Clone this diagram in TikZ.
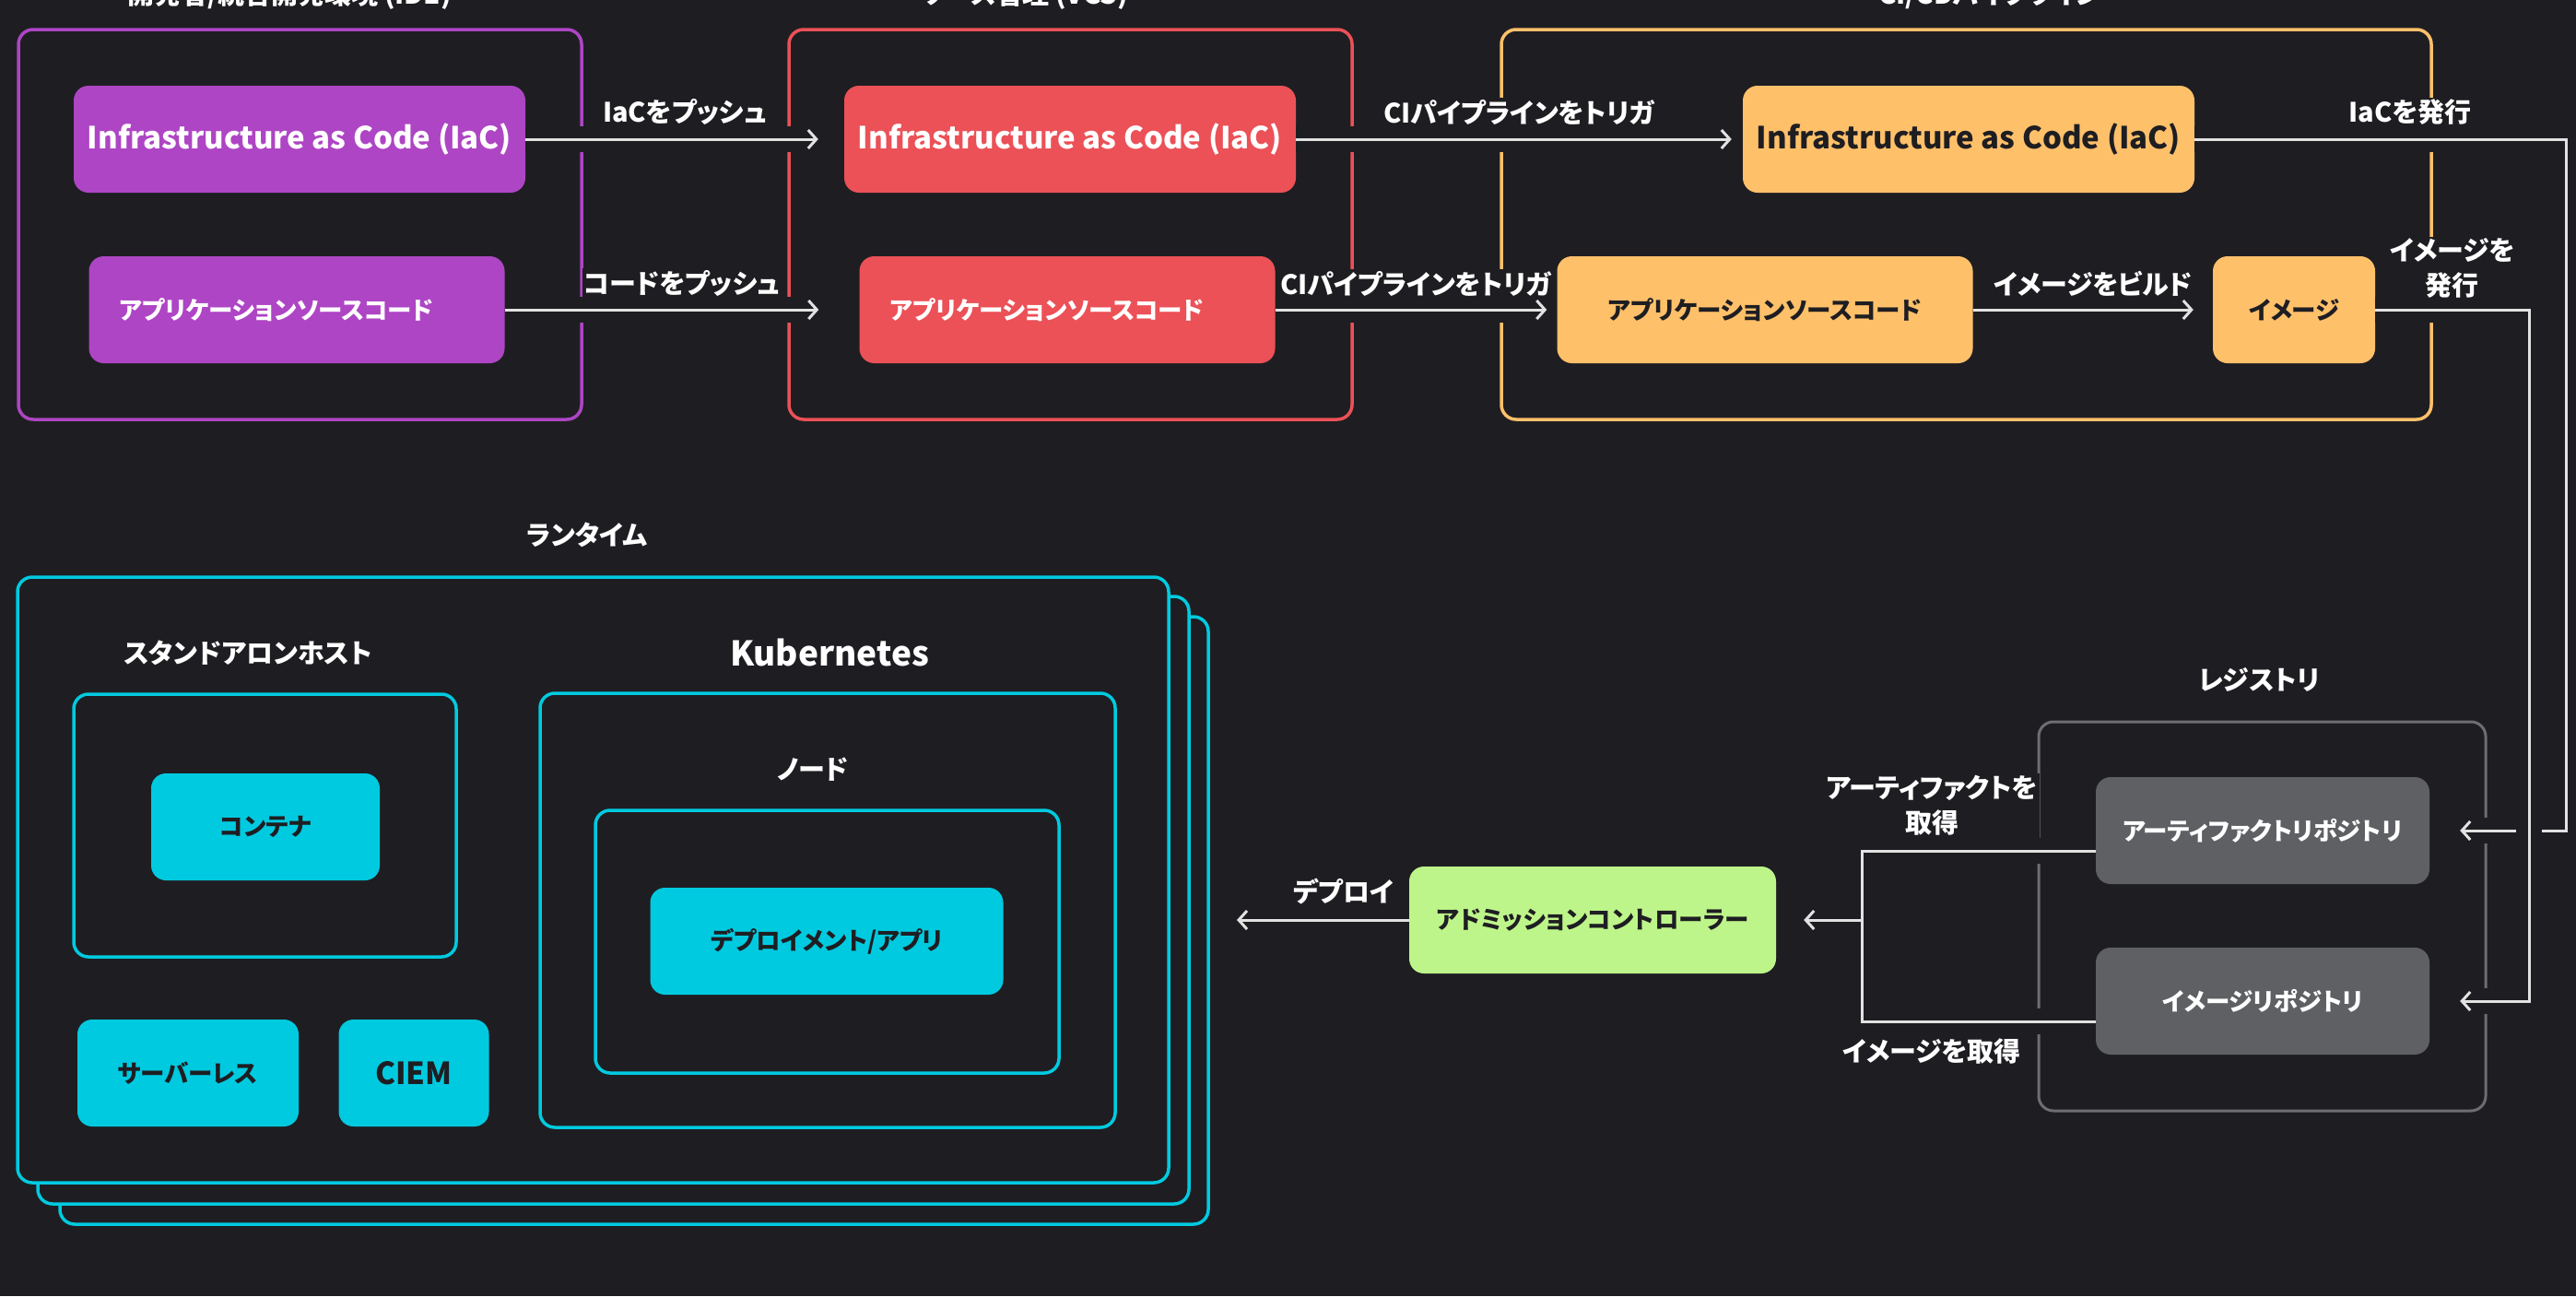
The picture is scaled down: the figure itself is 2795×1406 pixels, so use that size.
\documentclass[tikz,border=0pt]{standalone}
\usepackage{fontspec}
\setmainfont{Noto Sans CJK JP}[RawFeature=+palt]
\usetikzlibrary{arrows.meta}

\definecolor{bg}{HTML}{1E1E22}
\definecolor{devpurple}{HTML}{AE45C4}
\definecolor{vcsred}{HTML}{EB5157}
\definecolor{ciyellow}{HTML}{FFC06A}
\definecolor{rtcyan}{HTML}{00CAE0}
\definecolor{admgreen}{HTML}{BEF58A}
\definecolor{reggray}{HTML}{5F6063}
\definecolor{regline}{HTML}{6E6E70}
\definecolor{connline}{HTML}{E2E2E2}

\newcommand{\jpfont}{\bfseries\fontsize{29}{38}\selectfont}
\newcommand{\boxfont}{\bfseries\fontsize{26.5}{34}\selectfont}
\newcommand{\enfont}{\bfseries\fontsize{33}{40}\selectfont}

\begin{document}
\begin{tikzpicture}[x=1pt, y=-1pt, >={Straight Barb[length=9pt, width=20pt]},
  frame/.style={line width=3.5pt, rounded corners=16pt},
  box/.style={rounded corners=16pt, minimum height=116pt, inner sep=0pt, font=\boxfont},
  pbox/.style={box, fill=devpurple, text=white},
  rbox/.style={box, fill=vcsred, text=white},
  ybox/.style={box, fill=ciyellow, text=bg},
  cbox/.style={box, fill=rtcyan, text=bg},
  gbox/.style={box, fill=reggray, text=white},
  abox/.style={box, fill=admgreen, text=bg},
  title/.style={text=white, font=\jpfont, inner sep=0pt},
  lbl/.style={text=white, fill=bg, font=\jpfont, inner sep=2pt, align=center},
  conn/.style={draw=connline, line width=3pt},
  halo/.style={preaction={draw=bg, line width=28pt, -}}]

\useasboundingbox (0,0) rectangle (2795,1406);
\fill[bg] (0,0) rectangle (2795,1406);

% Developer / IDE
\draw[frame, devpurple] (20,32) rectangle (631,455);
\node[title, anchor=base] (devtitle) at (314,4) {開発者/統合開発環境 (IDE)};
\node[pbox, font=\enfont, minimum width=490pt] (piac) at (325,151) {Infrastructure as Code (IaC)};
\node[pbox, minimum width=451pt] (papp) at (322,336) {アプリケーションソースコード\kern44pt};

% Version control
\draw[frame, vcsred] (856,32) rectangle (1467,455);
\node[title, anchor=base] (vcstitle) at (1112,4) {ソース管理 (VCS)};
\node[rbox, font=\enfont, minimum width=490pt] (riac) at (1161,151) {Infrastructure as Code (IaC)};
\node[rbox, minimum width=451pt] (rapp) at (1158,336) {アプリケーションソースコード\kern44pt};

% CI pipeline
\draw[frame, ciyellow] (1629,32) rectangle (2638,455);
\node[title, anchor=base] (cititle) at (2159,4) {CI/CDパイプライン};
\node[ybox, font=\enfont, minimum width=490pt] (yiac) at (2136,151) {Infrastructure as Code (IaC)};
\node[ybox, minimum width=451pt] (yapp) at (1915,336) {アプリケーションソースコード};
\node[ybox, minimum width=176pt] (yimg) at (2489,336) {イメージ};

% Registry
\draw[frame, regline, line width=3pt] (2212,783) rectangle (2697,1205);
\node[title] (regtitle) at (2451,737) {レジストリ};
\node[gbox, minimum width=362pt] (arepo) at (2455,901) {アーティファクトリポジトリ};
\node[gbox, minimum width=362pt] (irepo) at (2455,1086) {イメージリポジトリ};

% Admission controller
\node[abox, minimum width=398pt] (adm) at (1728,998) {アドミッションコントローラー};

% Runtime
\draw[frame, rtcyan, fill=bg] (65,669) rectangle (1311,1328);
\draw[frame, rtcyan, fill=bg] (41,647) rectangle (1290,1306);
\draw[frame, rtcyan, fill=bg] (19,626) rectangle (1268,1283);
\node[title] (rttitle) at (637,580) {ランタイム};
\node[title] (hosttitle) at (269,708) {スタンドアロンホスト};
\draw[frame, rtcyan] (80,753) rectangle (495,1038);
\node[cbox, minimum width=248pt] (cont) at (288,897) {コンテナ};
\node[cbox, minimum width=240pt] (sless) at (204,1164) {サーバーレス};
\node[cbox, font=\enfont, minimum width=163pt] (ciem) at (449,1164) {CIEM};
\node[title, font=\bfseries\fontsize{37}{44}\selectfont] (k8stitle) at (900,708) {Kubernetes};
\draw[frame, rtcyan] (586,752) rectangle (1210,1223);
\node[title] (nodetitle) at (882,835) {ノード};
\draw[frame, rtcyan] (646,879) rectangle (1149,1164);
\node[cbox, minimum width=383pt] (dep) at (897,1021) {デプロイメント/アプリ};

% Push and trigger
\draw[conn, halo, ->, shorten >=28pt] (piac) -- node[lbl, above=12pt] {IaCをプッシュ} (riac);
\draw[conn, halo, ->, shorten >=44pt] (papp) -- node[lbl, above=11pt] {コードをプッシュ} (rapp);
\draw[conn, halo, ->, shorten >=12pt] (riac) -- node[lbl, above=12pt] {CIパイプラインをトリガ} (yiac);
\draw[conn, halo, ->, shorten >=11pt] (rapp) -- node[lbl, above=11pt] {CIパイプラインをトリガ} (yapp);
\draw[conn, halo, ->, shorten >=21pt] (yapp) -- node[lbl, above=11pt] {イメージをビルド} (yimg);

% Publish to registry
\coordinate (iacturn) at (2784,0);
\coordinate (imgturn) at (2744,0);
\draw[conn, halo, ->, shorten >=33pt] (yiac.east) -- node[lbl, above=12pt, pos=0.58] {IaCを発行} (yiac.east -| iacturn) |- (arepo.east);
\draw[conn, halo, ->, shorten >=33pt] (yimg.east) -- node[lbl, above=9pt] {イメージを\\発行} (yimg.east -| imgturn) |- (irepo.east);

% Fetch and deploy
\coordinate (merge) at (2020,998);
\coordinate (deployend) at (1342,998);
\draw[conn, halo] ([yshift=-22pt]arepo.west) -| node[lbl, above=13pt, pos=0.35] {アーティファクトを\\取得} (merge)
  |- node[lbl, below=15pt, pos=0.65] {イメージを取得} ([yshift=-22pt]irepo.west);
\draw[conn, ->, shorten >=30pt] (merge) -- (adm.east);
\draw[conn, ->] (adm.west) -- node[lbl, above=13pt, pos=0.38] {デプロイ} (deployend);

\end{tikzpicture}
\end{document}
